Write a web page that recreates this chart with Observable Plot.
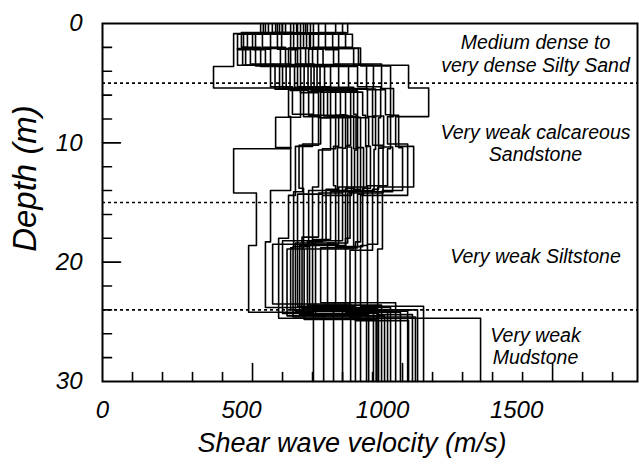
<!DOCTYPE html>
<html>
<head>
<meta charset="utf-8">
<script src="https://cdn.jsdelivr.net/npm/d3@7"></script>
<script src="https://cdn.jsdelivr.net/npm/@observablehq/plot@0.6"></script>
<style>
  html, body { margin: 0; padding: 0; background: #fff; }
</style>
</head>
<body>
<div id="chart"></div>
<script>
// Shear wave velocity profiles (m/s) for each test location, one row per profile,
// one value per layer from the surface down.
const velocities = [
  [577, 437, 437, 370, 620, 627, 437, 513, 487, 703],
  [527, 483, 467, 590, 660, 577, 627, 560, 543, 770],
  [599, 450, 493, 625, 687, 720, 655, 670, 615, 737],
  [543, 510, 450, 560, 633, 700, 643, 620, 587, 1260],
  [637, 463, 527, 660, 720, 760, 720, 700, 567, 827],
  [536, 560, 477, 600, 670, 727, 667, 637, 627, 800],
  [610, 470, 560, 575, 703, 800, 783, 745, 600, 880],
  [553, 597, 510, 640, 750, 777, 733, 650, 650, 843],
  [660, 500, 543, 685, 737, 787, 770, 777, 643, 903],
  [583, 533, 610, 612, 727, 827, 815, 687, 635, 860],
  [566, 637, 593, 715, 793, 810, 800, 720, 665, 915],
  [683, 583, 650, 650, 760, 850, 840, 810, 657, 887],
  [590, 680, 620, 695, 777, 817, 830, 733, 683, 930],
  [627, 627, 677, 740, 827, 860, 860, 837, 672, 912],
  [703, 650, 627, 672, 810, 837, 850, 760, 700, 950],
  [600, 720, 700, 760, 850, 887, 880, 787, 690, 920],
  [650, 660, 643, 705, 837, 845, 870, 850, 727, 977],
  [743, 690, 735, 820, 883, 910, 905, 800, 710, 940],
  [647, 767, 660, 725, 867, 877, 893, 867, 777, 1017],
  [670, 703, 687, 787, 910, 900, 935, 817, 750, 960],
  [817, 743, 787, 903, 900, 937, 920, 900, 825, 1043],
  [677, 833, 717, 850, 927, 920, 967, 825, 810, 993],
  [693, 670, 853, 880, 943, 960, 950, 883, 860, 1070],
  [800, 787, 770, 930, 970, 950, 1017, 860, 843, 1020],
  [720, 810, 860, 960, 960, 987, 1000, 933, 917, 1033],
  [777, 693, 837, 1020, 1087, 977, 1037, 917, 883, 1050]
];

// Depths (m) of the layer interfaces in each profile.
const boundaries = [
  [0.85, 2.1, 3.6, 5.4, 7.8, 10.5, 14.2, 18.6, 24.2],
  [0.8, 2.0, 3.5, 5.5, 7.85, 10.4, 14.0, 18.3, 23.8],
  [0.9, 2.2, 3.4, 5.6, 7.7, 10.2, 13.8, 18.9, 24.5],
  [0.8, 2.1, 3.5, 5.3, 7.6, 10.3, 14.4, 18.0, 24.7],
  [0.75, 2.0, 3.6, 5.8, 7.9, 10.6, 13.7, 18.5, 23.5],
  [0.85, 2.15, 3.5, 5.4, 7.8, 10.1, 14.1, 18.8, 24.0],
  [0.8, 2.05, 3.45, 5.5, 7.7, 10.4, 13.9, 18.2, 24.3],
  [0.9, 2.1, 3.55, 5.35, 7.85, 10.5, 14.3, 19.0, 23.7],
  [0.8, 2.2, 3.5, 5.7, 7.75, 10.3, 13.6, 18.4, 24.1],
  [0.85, 2.0, 3.4, 5.45, 7.9, 10.2, 14.0, 18.7, 24.6],
  [0.75, 2.1, 3.6, 5.5, 7.65, 10.45, 14.2, 17.9, 23.9],
  [0.8, 2.15, 3.5, 5.3, 7.8, 10.6, 13.8, 18.6, 24.4],
  [0.9, 2.05, 3.45, 5.6, 7.7, 10.35, 14.4, 18.3, 23.6],
  [0.8, 2.1, 3.55, 5.4, 7.85, 10.15, 13.9, 18.9, 24.8],
  [0.85, 2.2, 3.5, 5.5, 7.75, 10.5, 14.1, 18.1, 24.0],
  [0.8, 2.0, 3.6, 5.65, 7.9, 10.25, 13.7, 18.5, 24.3],
  [0.75, 2.1, 3.4, 5.35, 7.6, 10.4, 14.3, 18.8, 23.4],
  [0.9, 2.15, 3.5, 5.45, 7.8, 10.55, 14.0, 18.2, 24.5],
  [0.8, 2.05, 3.55, 5.75, 7.7, 10.3, 13.8, 18.7, 24.1],
  [0.85, 2.1, 3.45, 5.5, 7.85, 10.2, 14.2, 18.4, 23.8],
  [0.8, 2.2, 3.5, 5.4, 7.75, 10.45, 13.9, 19.0, 24.6],
  [0.9, 2.0, 3.6, 5.3, 7.9, 10.35, 14.1, 18.0, 24.2],
  [0.8, 2.1, 3.5, 5.55, 7.65, 10.5, 13.6, 18.6, 23.7],
  [0.85, 2.15, 3.4, 5.45, 7.8, 10.1, 14.4, 18.3, 24.9],
  [0.75, 2.05, 3.55, 5.6, 7.7, 10.4, 14.0, 18.9, 24.4],
  [0.8, 2.1, 3.5, 5.4, 7.8, 10.3, 13.7, 18.5, 24.0]
];

// Geological units
const unitNames = [
  "Medium dense to\nvery dense Silty Sand",
  "Very weak calcareous\nSandstone",
  "Very weak Siltstone",
  "Very weak\nMudstone"
];
const unitTops = [0, 5, 15, 24];
const unitBases = [5, 15, 24, 30];

// Axes
const maxDepth = 30;
const velocityMax = 1783;
const velocityLabels = [0, 500, 1000, 1500];
const velocityTicks = d3.range(100, 1800, 100);
const depthLabels = [0, 10, 20, 30];
const depthTicks = d3.range(2, 30, 2);

// Expand each profile into a stepped path: constant velocity over each layer.
const profilePoints = velocities.flatMap((vs, p) => {
  const tops = [0, ...boundaries[p]];
  const bases = [...boundaries[p], maxDepth];
  return vs.flatMap((v, i) => [
    {profile: p, v, depth: tops[i]},
    {profile: p, v, depth: bases[i]}
  ]);
});

const units = unitNames.map((name, i) => ({name, mid: (unitTops[i] + unitBases[i]) / 2}));

const W = 639, H = 467;
const mL = 102, mR = 2, mT = 23, mB = 86;
const frameW = W - mL - mR, frameH = H - mT - mB;

// Inward ticks as short two-point segments; lengths are given in px and
// converted to data units (longer ticks on the labelled values).
const pxPerMetre = frameH / maxDepth;
const pxPerVelocity = frameW / velocityMax;
const tickPx = (major) => (major ? 18 : 9);
const tickSegments = [
  ...velocityTicks.flatMap(v => {
    const len = tickPx(v % 500 === 0) / pxPerMetre;
    return [{id: "x" + v, v, depth: maxDepth}, {id: "x" + v, v, depth: maxDepth - len}];
  }),
  ...depthTicks.flatMap(d => {
    const len = tickPx(d % 10 === 0) / pxPerVelocity;
    return [{id: "y" + d, v: 0, depth: d}, {id: "y" + d, v: len, depth: d}];
  })
];

const labelOffsets = [0, -11, -20, -36];

const chart = Plot.plot({
  width: W,
  height: H,
  marginLeft: mL,
  marginRight: mR,
  marginTop: mT,
  marginBottom: mB,
  style: {fontFamily: "'Liberation Sans', Arial, sans-serif", fontStyle: "italic", background: "#fff", color: "#000"},
  x: {domain: [0, velocityMax], axis: null},
  y: {domain: [0, maxDepth], reverse: true, axis: null},
  marks: [
    // unit boundaries
    Plot.ruleY(unitTops.slice(1), {y: d => d, stroke: "#000", strokeWidth: 1.6, strokeDasharray: "3,3"}),
    // velocity profiles
    Plot.line(profilePoints, {x: "v", y: "depth", z: "profile", stroke: "#000", strokeWidth: 1.6}),
    // inward ticks
    Plot.line(tickSegments, {x: "v", y: "depth", z: "id", stroke: "#000", strokeWidth: 1.6}),
    Plot.frame({stroke: "#000", strokeWidth: 2}),
    // tick labels
    ...velocityLabels.map((t, i) => Plot.text([t], {
      x: d => d, frameAnchor: "bottom", lineAnchor: "middle", dy: 29, dx: labelOffsets[i],
      text: d => String(d), fontSize: 24, fill: "#000"
    })),
    Plot.text(depthLabels, {
      y: d => d, frameAnchor: "left", lineAnchor: "middle", dx: -20, textAnchor: "end",
      text: d => String(d), fontSize: 24, fill: "#000"
    }),
    // axis titles
    Plot.text(["Shear wave velocity (m/s)"], {
      frameAnchor: "bottom", lineAnchor: "middle", textAnchor: "middle", dy: 62, dx: -18,
      text: d => d, fontSize: 27, fill: "#000"
    }),
    Plot.text(["Depth (m)"], {
      frameAnchor: "left", lineAnchor: "middle", textAnchor: "middle", dx: -77, dy: -24, rotate: -90,
      text: d => d, fontSize: 33, fill: "#000"
    }),
    // unit names
    Plot.text(units, {
      x: 1443, y: "mid", text: "name", fontSize: 19.5, lineHeight: 1.15, fill: "#000"
    })
  ]
});

document.getElementById("chart").appendChild(chart);
</script>
</body>
</html>
